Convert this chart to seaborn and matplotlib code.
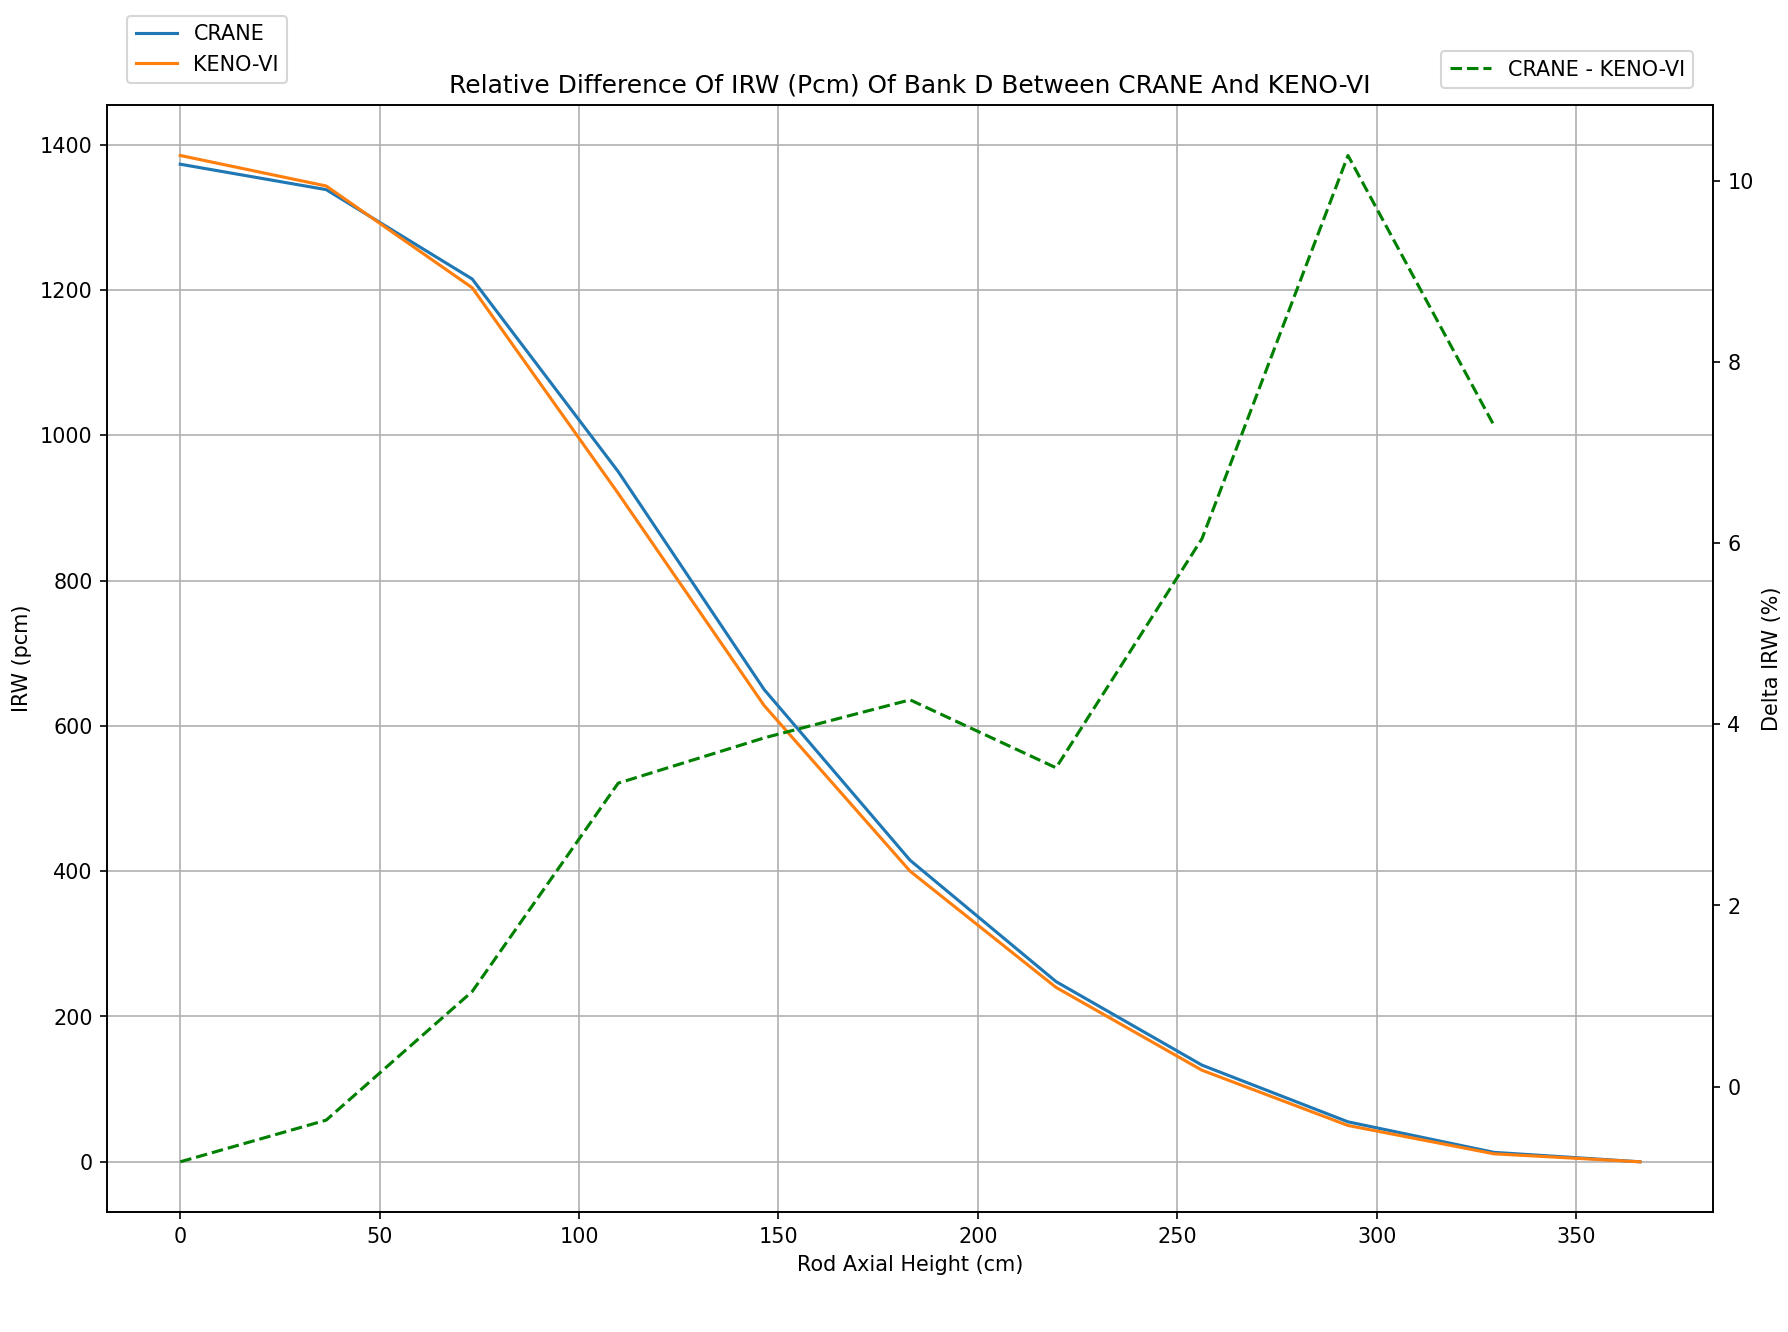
import numpy as np
import pandas as pd
import seaborn as sns
from matplotlib import pyplot as plt

height = [0, 36.6, 73.2, 109.8, 146.4, 183.0, 219.6, 256.2, 292.8, 329.4, 366.0]
crane = [1373, 1338, 1215, 950, 650, 415, 248, 133, 55, 13, 0]
keno = [1385, 1343, 1203, 920, 628, 400, 240, 126, 50, 11, 0]
delta = [-0.83, -0.37, 1.05, 3.35, 3.85, 4.27, 3.52, 6.05, 10.28, 7.3]

df = pd.DataFrame({'height': height, 'CRANE': crane, 'KENO-VI': keno})
dd = pd.DataFrame({'height': height[:len(delta)], 'delta': delta})

fig = plt.figure(figsize=(12, 8.94), dpi=149)
ax = fig.add_axes([0.06, 0.09, 0.898, 0.831])
sns.lineplot(data=df, x='height', y='CRANE', ax=ax, label='CRANE', color='#1f77b4')
sns.lineplot(data=df, x='height', y='KENO-VI', ax=ax, label='KENO-VI', color='#ff7f0e')
ax.set_xlabel('Rod Axial Height (cm)')
ax.set_ylabel('IRW (pcm)')
ax.grid(True)
ax.set_title('Relative Difference Of IRW (Pcm) Of Bank D Between CRANE And KENO-VI')
ax.legend(loc='upper left', bbox_to_anchor=(0.006, 1.09))

ax2 = ax.twinx()
sns.lineplot(data=dd, x='height', y='delta', ax=ax2, label='CRANE - KENO-VI',
             color='green', linestyle='--')
ax2.set_ylabel('Delta IRW (%)')
ax2.legend(loc='upper right', bbox_to_anchor=(0.994, 1.058))

fig.savefig('out.png')
